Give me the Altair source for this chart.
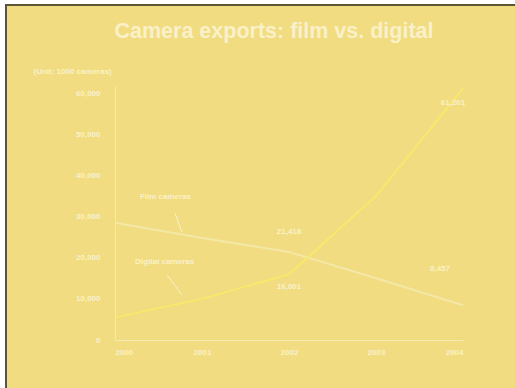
import altair as alt
import pandas as pd

years = [2000, 2001, 2002, 2003, 2004]
film = [28500, 24800, 21418, 15000, 8457]
digital = [5500, 10000, 16001, 35000, 61201]
y_ticks = [0, 10000, 20000, 30000, 40000, 50000, 60000]

BG = "#F1DC82"
TXT = "#FAF1C8"
FILM_C = "#F5E7A6"
DIG_C = "#F6E96C"
FONT = "Liberation Sans"

df = pd.DataFrame({
    "year": years * 2,
    "value": film + digital,
    "series": ["Film cameras"] * 5 + ["Digital cameras"] * 5,
})
film_df = df[df.series == "Film cameras"]
dig_df = df[df.series == "Digital cameras"]

x = alt.X("year:Q", scale=alt.Scale(domain=[2000, 2004], nice=False),
          axis=alt.Axis(values=years, labelExpr="format(datum.value, 'd')", title=None,
                        labelPadding=8, labelFontSize=8, labelFontWeight="bold",
                        labelColor=TXT, domainColor="#F5E8B0", ticks=False,
                        grid=False, zindex=1))
y = alt.Y("value:Q", scale=alt.Scale(domain=[0, 62000], nice=False),
          axis=alt.Axis(values=y_ticks, labelExpr="format(datum.value, ',')",
                        title="(Unit: 1000 cameras)",
                        titleAngle=0, titleX=-82, titleY=-10, titleAlign="left",
                        titleBaseline="bottom", titleFontSize=8, titleFontWeight="bold",
                        titleColor=TXT, labelPadding=15, labelFontSize=8,
                        labelFontWeight="bold", labelColor=TXT,
                        domainColor="#F5E8B0", ticks=False, grid=False, zindex=1))

frame = alt.Chart(alt.Data(values=[{}])).mark_rect(
    fill=BG, stroke="#5B5636", strokeWidth=2, clip=False
).encode(x=alt.value(-109), x2=alt.value(500), y=alt.value(-80), y2=alt.value(400))

title = alt.Chart(alt.Data(values=[{"t": "Camera exports: film vs. digital"}])).mark_text(
    font=FONT, fontSize=21.5, fontWeight="bold", color=TXT, align="center",
    baseline="middle", clip=False
).encode(x=alt.value(159), y=alt.value(-53), text="t:N")

film_line = alt.Chart(film_df).mark_line(color=FILM_C, strokeWidth=2).encode(x=x, y=y)
dig_line = alt.Chart(dig_df).mark_line(color=DIG_C, strokeWidth=2, clip=False).encode(x=x, y=y)

def vlabel(sub, yr, dx, dy):
    d = sub[sub.year == yr].copy()
    d["label"] = d["value"].map(lambda v: f"{v:,}")
    return alt.Chart(d).mark_text(
        color=TXT, font=FONT, fontSize=8, fontWeight="bold", dx=dx, dy=dy
    ).encode(x=x, y=y, text="label:N")

labels = [
    vlabel(film_df, 2002, 0, -20),
    vlabel(dig_df, 2002, 0, 13),
    vlabel(dig_df, 2004, -10, 15),
    vlabel(film_df, 2004, -23, -36),
]

ann_text = pd.DataFrame({
    "year": [2000.58, 2000.57],
    "value": [34700, 18900],
    "label": ["Film cameras", "Digital cameras"],
})
ann_lines = pd.DataFrame({
    "year": [2000.69, 2000.77, 2000.6, 2000.77],
    "value": [30800, 26200, 15800, 10900],
    "grp": ["f", "f", "d", "d"],
})
ann_t = alt.Chart(ann_text).mark_text(
    color=TXT, font=FONT, fontSize=8, fontWeight="bold"
).encode(x=x, y=y, text="label:N")
ann_l = alt.Chart(ann_lines).mark_line(color=TXT, strokeWidth=1).encode(
    x=x, y=y, detail="grp:N")

chart = alt.layer(frame, title, film_line, dig_line, ann_l, ann_t, *labels).properties(
    width=348, height=255,
    autosize=alt.AutoSizeParams(type="none"),
    padding={"left": 115, "top": 85, "right": 52, "bottom": 48},
    background="white",
).configure_view(stroke=None).configure_axis(labelFont=FONT, titleFont=FONT)

chart.save("out.html", embed_options={"renderer": "svg", "actions": False})
